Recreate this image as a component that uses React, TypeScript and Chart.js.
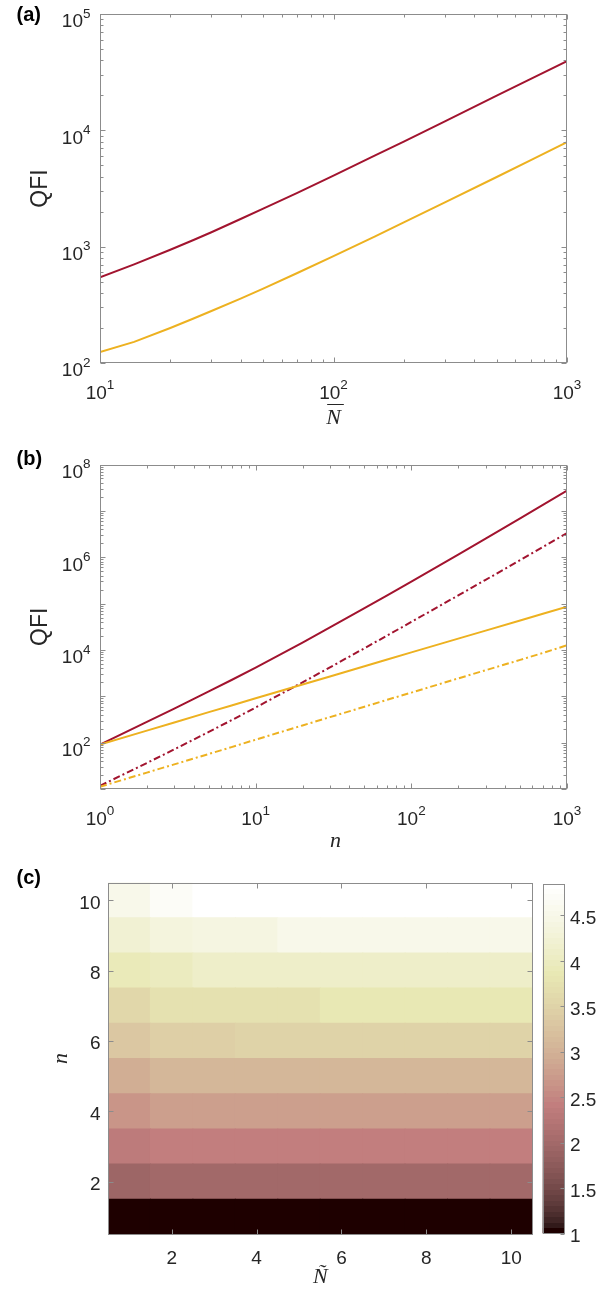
import React, { useEffect, useRef } from "react";
import { Chart, registerables } from "chart.js";

Chart.register(...registerables);

const W = 611;
const H = 1293;

const SANS = '"Liberation Sans", Arial, Helvetica, sans-serif';
const SERIF = '"Liberation Serif", "Times New Roman", serif';
const TXT = "#262626";
const AX = "#8c8c8c";
const RED = "#A2142F";
const YELLOW = "#EDB120";

// ---------------- Panel (a) ----------------
const aN = [10, 14, 20, 25, 30, 40, 50, 70, 100, 150, 200, 300, 500, 700, 1000];
const aRedQFI = [545, 705, 940, 1135, 1330, 1730, 2120, 2900, 4080, 6050, 8000, 11950, 19850, 27700, 39400];
const aYellowQFI = [124, 152, 200, 240, 280, 358, 436, 594, 830, 1220, 1615, 2400, 3970, 5540, 7900];
const aXTicks = [10, 100, 1000];
const aYTicks = [100, 1000, 10000, 100000];

// ---------------- Panel (b) ----------------
const bN = [1, 2, 3, 5, 7, 10, 20, 30, 50, 70, 100, 200, 300, 500, 700, 1000];
const bRedSolid = [91, 280, 544, 1271, 2244, 4150, 14450, 30500, 79300, 150000, 298000, 1143000, 2530000, 6920000, 13460000, 27400000];
const bRedDashDot = [11.7, 36.4, 71.6, 170.6, 305, 573, 1995, 4207, 10890, 20470, 40180, 150000, 325000, 867000, 1660000, 3320000];
const bYellowSolid = [91, 182, 273, 455, 635, 905, 1800, 2680, 4450, 6200, 8850, 17500, 26100, 43200, 60200, 85500];
const bYellowDashDot = [11.2, 22.6, 34, 57, 80, 116, 235, 355, 595, 840, 1200, 2430, 3650, 6100, 8600, 12600];
const bXTicks = [1, 10, 100, 1000];
const bYTicks = [100, 10000, 1000000, 100000000];

// ---------------- Panel (c) ----------------
const cNTilde = [1, 2, 3, 4, 5, 6, 7, 8, 9, 10];
const cN = [1, 2, 3, 4, 5, 6, 7, 8, 9, 10];
// one row per n (bottom to top), one column per N~
const cRow1 = [1.0, 1.0, 1.0, 1.0, 1.0, 1.0, 1.0, 1.0, 1.0, 1.0];
const cRow2 = [1.93, 1.98, 1.98, 1.98, 1.98, 1.98, 1.98, 1.98, 1.98, 1.98];
const cRow3 = [2.35, 2.41, 2.41, 2.41, 2.41, 2.41, 2.41, 2.41, 2.41, 2.41];
const cRow4 = [2.65, 2.77, 2.77, 2.77, 2.77, 2.77, 2.77, 2.77, 2.77, 2.77];
const cRow5 = [2.95, 3.07, 3.07, 3.07, 3.07, 3.07, 3.07, 3.07, 3.07, 3.07];
const cRow6 = [3.31, 3.43, 3.43, 3.49, 3.49, 3.49, 3.49, 3.49, 3.49, 3.49];
const cRow7 = [3.55, 3.73, 3.73, 3.73, 3.73, 3.85, 3.85, 3.85, 3.85, 3.85];
const cRow8 = [3.9, 4.0, 4.1, 4.1, 4.1, 4.1, 4.1, 4.1, 4.1, 4.1];
const cRow9 = [4.21, 4.33, 4.4, 4.4, 4.51, 4.51, 4.51, 4.51, 4.51, 4.51];
const cRow10 = [4.51, 4.68, 4.85, 4.85, 4.85, 4.85, 4.85, 4.85, 4.85, 4.85];
const cValues = [cRow1, cRow2, cRow3, cRow4, cRow5, cRow6, cRow7, cRow8, cRow9, cRow10];
const cXTicks = [2, 4, 6, 8, 10];
const cYTicks = [2, 4, 6, 8, 10];
const cbTicks = [1, 1.5, 2, 2.5, 3, 3.5, 4, 4.5];

const cMin = Math.min(...cValues.map((r) => Math.min(...r)));
const cMax = Math.max(...cValues.map((r) => Math.max(...r)));

// MATLAB "pink" colormap, 64 entries
function pinkEntry(k: number): string {
  const m = 64;
  const n = 24;
  const gray = k / (m - 1);
  const r = k < n ? (k + 1) / n : 1;
  const g = k < n ? 0 : k < 2 * n ? (k - n + 1) / n : 1;
  const b = k < 2 * n ? 0 : (k - 2 * n + 1) / (m - 2 * n);
  const c = [r, g, b].map((h) => Math.round(Math.sqrt((2 * gray + h) / 3) * 255));
  return `rgb(${c[0]},${c[1]},${c[2]})`;
}
function colorFor(v: number): string {
  const t = (v - cMin) / (cMax - cMin);
  let k = Math.floor(t * 64);
  if (k > 63) k = 63;
  if (k < 0) k = 0;
  return pinkEntry(k);
}

function logMinors(min: number, max: number): number[] {
  const out: number[] = [];
  for (let d = Math.floor(Math.log10(min)); d < Math.ceil(Math.log10(max)); d++) {
    for (let m = 2; m <= 9; m++) {
      const v = m * Math.pow(10, d);
      if (v > min && v < max) out.push(v);
    }
  }
  return out;
}

function drawPow(ctx: CanvasRenderingContext2D, exp: number, x: number, baseline: number, align: "center" | "right") {
  ctx.font = `19px ${SANS}`;
  const wb = ctx.measureText("10").width;
  ctx.font = `13.5px ${SANS}`;
  const es = String(exp);
  const we = ctx.measureText(es).width;
  const total = wb + we;
  const x0 = align === "center" ? x - total / 2 : x - total;
  ctx.textAlign = "left";
  ctx.textBaseline = "alphabetic";
  ctx.fillStyle = TXT;
  ctx.font = `19px ${SANS}`;
  ctx.fillText("10", x0, baseline);
  ctx.font = `13.5px ${SANS}`;
  ctx.fillText(es, x0 + wb, baseline - 9.5);
}

function rotatedText(ctx: CanvasRenderingContext2D, text: string, x: number, y: number, font: string) {
  ctx.save();
  ctx.translate(x, y);
  ctx.rotate(-Math.PI / 2);
  ctx.font = font;
  ctx.fillStyle = TXT;
  ctx.textAlign = "center";
  ctx.textBaseline = "middle";
  ctx.fillText(text, 0, 0);
  ctx.restore();
}

function panelTag(ctx: CanvasRenderingContext2D, text: string, x: number, baseline: number) {
  ctx.font = `bold 20px ${SANS}`;
  ctx.fillStyle = "#000";
  ctx.textAlign = "left";
  ctx.textBaseline = "alphabetic";
  ctx.fillText(text, x, baseline);
}

type FrameOpts = {
  xMajor: number[];
  xMinor: number[];
  yMajor: number[];
  yMinor: number[];
  majorLen: number;
  minorLen: number;
  rightOnly?: boolean;
  labels: (ctx: CanvasRenderingContext2D, chart: any) => void;
};

function framePlugin(id: string, o: FrameOpts) {
  return {
    id,
    afterDraw(chart: any) {
      const ctx = chart.ctx as CanvasRenderingContext2D;
      const { left, right, top, bottom } = chart.chartArea;
      const xs = chart.scales.x;
      const ys = chart.scales.y;
      const L = Math.round(left) + 0.5;
      const R = Math.round(right) - 0.5;
      const T = Math.round(top) + 0.5;
      const B = Math.round(bottom) - 0.5;
      ctx.save();
      ctx.strokeStyle = AX;
      ctx.lineWidth = 1;
      ctx.beginPath();
      const vt = (v: number, len: number) => {
        const p = Math.round(xs.getPixelForValue(v)) + 0.5;
        ctx.moveTo(p, B);
        ctx.lineTo(p, B - len);
        ctx.moveTo(p, T);
        ctx.lineTo(p, T + len);
      };
      const ht = (v: number, len: number) => {
        const p = Math.round(ys.getPixelForValue(v)) + 0.5;
        if (!o.rightOnly) {
          ctx.moveTo(L, p);
          ctx.lineTo(L + len, p);
        }
        ctx.moveTo(R, p);
        ctx.lineTo(R - len, p);
      };
      o.xMajor.forEach((v) => vt(v, o.majorLen));
      o.xMinor.forEach((v) => vt(v, o.minorLen));
      o.yMajor.forEach((v) => ht(v, o.majorLen));
      o.yMinor.forEach((v) => ht(v, o.minorLen));
      ctx.stroke();
      ctx.strokeRect(L, T, R - L, B - T);
      ctx.restore();
      ctx.save();
      o.labels(ctx, chart);
      ctx.restore();
    },
  };
}

const baseOpts = {
  responsive: false,
  animation: false as const,
  events: [] as any[],
  plugins: { legend: { display: false }, tooltip: { enabled: false } },
};

function configA(): any {
  return {
    type: "line",
    data: {
      datasets: [
        { data: aN.map((x, i) => ({ x, y: aRedQFI[i] })), borderColor: RED, borderWidth: 2, pointRadius: 0, tension: 0, fill: false },
        { data: aN.map((x, i) => ({ x, y: aYellowQFI[i] })), borderColor: YELLOW, borderWidth: 2, pointRadius: 0, tension: 0, fill: false },
      ],
    },
    options: {
      ...baseOpts,
      layout: { padding: { left: 100, right: W - 567, top: 14, bottom: H - 363 } },
      scales: {
        x: { type: "logarithmic", min: 10, max: 1000, display: false },
        y: { type: "logarithmic", min: 100, max: 100000, display: false },
      },
    },
    plugins: [
      framePlugin("frameA", {
        xMajor: aXTicks,
        xMinor: logMinors(10, 1000),
        yMajor: aYTicks,
        yMinor: logMinors(100, 100000),
        majorLen: 5,
        minorLen: 3,
        labels: (ctx, chart) => {
          const ca = chart.chartArea;
          const xs = chart.scales.x;
          const ys = chart.scales.y;
          aXTicks.forEach((v) => drawPow(ctx, Math.round(Math.log10(v)), xs.getPixelForValue(v), ca.bottom + 35.5, "center"));
          aYTicks.forEach((v) => drawPow(ctx, Math.round(Math.log10(v)), ca.left - 9.5, ys.getPixelForValue(v) + 13.3, "right"));
          rotatedText(ctx, "QFI", 41, (ca.top + ca.bottom) / 2, `23px ${SANS}`);
          // N with overline
          const cx = (ca.left + ca.right) / 2;
          ctx.font = `italic 22px ${SERIF}`;
          ctx.fillStyle = TXT;
          ctx.textAlign = "center";
          ctx.textBaseline = "alphabetic";
          ctx.fillText("N", cx, 424);
          const w = ctx.measureText("N").width;
          ctx.strokeStyle = TXT;
          ctx.lineWidth = 1;
          ctx.beginPath();
          ctx.moveTo(cx - w / 2 + 1, 404.5);
          ctx.lineTo(cx + w / 2 + 3, 404.5);
          ctx.stroke();
          panelTag(ctx, "(a)", 16.5, 21);
        },
      }),
    ],
  };
}

function configB(): any {
  const dd = [7, 3, 2, 3];
  return {
    type: "line",
    data: {
      datasets: [
        { data: bN.map((x, i) => ({ x, y: bYellowDashDot[i] })), borderColor: YELLOW, borderWidth: 2, borderDash: dd, pointRadius: 0, tension: 0, fill: false },
        { data: bN.map((x, i) => ({ x, y: bYellowSolid[i] })), borderColor: YELLOW, borderWidth: 2, pointRadius: 0, tension: 0, fill: false },
        { data: bN.map((x, i) => ({ x, y: bRedDashDot[i] })), borderColor: RED, borderWidth: 2, borderDash: dd, pointRadius: 0, tension: 0, fill: false },
        { data: bN.map((x, i) => ({ x, y: bRedSolid[i] })), borderColor: RED, borderWidth: 2, pointRadius: 0, tension: 0, fill: false },
      ],
    },
    options: {
      ...baseOpts,
      layout: { padding: { left: 100, right: W - 567, top: 464.5, bottom: H - 789 } },
      scales: {
        x: { type: "logarithmic", min: 1, max: 1000, display: false },
        y: { type: "logarithmic", min: 10, max: 100000000, display: false },
      },
    },
    plugins: [
      framePlugin("frameB", {
        xMajor: bXTicks,
        xMinor: logMinors(1, 1000),
        yMajor: [10, 1000, 100000, 10000000, ...bYTicks],
        yMinor: logMinors(10, 100000000),
        majorLen: 5,
        minorLen: 3,
        labels: (ctx, chart) => {
          const ca = chart.chartArea;
          const xs = chart.scales.x;
          const ys = chart.scales.y;
          bXTicks.forEach((v) => drawPow(ctx, Math.round(Math.log10(v)), xs.getPixelForValue(v), ca.bottom + 35.5, "center"));
          bYTicks.forEach((v) => drawPow(ctx, Math.round(Math.log10(v)), ca.left - 9.5, ys.getPixelForValue(v) + 13.3, "right"));
          rotatedText(ctx, "QFI", 41, (ca.top + ca.bottom) / 2, `23px ${SANS}`);
          ctx.font = `italic 22px ${SERIF}`;
          ctx.fillStyle = TXT;
          ctx.textAlign = "center";
          ctx.textBaseline = "alphabetic";
          ctx.fillText("n", (ca.left + ca.right) / 2 + 2, 847);
          panelTag(ctx, "(b)", 16.5, 465);
        },
      }),
    ],
  };
}

function configC(): any {
  const datasets = cN.map((n, ri) => ({
    type: "bar",
    data: cNTilde.map((x) => ({ x, y: [n - 0.5, n + 0.5] })),
    backgroundColor: cNTilde.map((_, ci) => colorFor(cValues[ri][ci])),
    borderWidth: 0,
    grouped: false,
    barPercentage: 1,
    categoryPercentage: 1,
    inflateAmount: 0.5,
  }));
  return {
    type: "bar",
    data: { datasets },
    options: {
      ...baseOpts,
      layout: { padding: { left: 108, right: W - 532.5, top: 882.5, bottom: H - 1234.5 } },
      scales: {
        x: {
          type: "linear",
          min: 0.5,
          max: 10.5,
          offset: false,
          display: false,
          afterBuildTicks: (s: any) => {
            s.ticks = cNTilde.map((v) => ({ value: v }));
          },
        },
        y: { type: "linear", min: 0.5, max: 10.5, display: false },
      },
    },
    plugins: [
      framePlugin("frameC", {
        xMajor: cXTicks,
        xMinor: [],
        yMajor: cYTicks,
        yMinor: [],
        majorLen: 5,
        minorLen: 3,
        labels: (ctx, chart) => {
          const ca = chart.chartArea;
          const xs = chart.scales.x;
          const ys = chart.scales.y;
          ctx.font = `19px ${SANS}`;
          ctx.fillStyle = TXT;
          ctx.textBaseline = "alphabetic";
          ctx.textAlign = "center";
          cXTicks.forEach((v) => ctx.fillText(String(v), xs.getPixelForValue(v), ca.bottom + 29));
          ctx.textAlign = "right";
          cYTicks.forEach((v) => ctx.fillText(String(v), ca.left - 7.5, ys.getPixelForValue(v) + 8.5));
          rotatedText(ctx, "n", 61, (ca.top + ca.bottom) / 2, `italic 22px ${SERIF}`);
          ctx.font = `italic 22px ${SERIF}`;
          ctx.fillStyle = TXT;
          ctx.textAlign = "center";
          ctx.textBaseline = "alphabetic";
          ctx.fillText("Ñ", (ca.left + ca.right) / 2, 1283);
          panelTag(ctx, "(c)", 16.5, 884);
        },
      }),
    ],
  };
}

function configBar(): any {
  let cache: any = null;
  return {
    type: "bar",
    data: {
      labels: ["colorbar"],
      datasets: [
        {
          data: [[cMin, cMax]],
          borderWidth: 0,
          barPercentage: 1,
          categoryPercentage: 1,
          backgroundColor: (c: any) => {
            const ca = c.chart.chartArea;
            if (!ca) return "#000";
            if (cache) return cache;
            const g = c.chart.ctx.createLinearGradient(0, ca.bottom, 0, ca.top);
            for (let k = 0; k < 64; k++) {
              const col = pinkEntry(k);
              g.addColorStop(k / 64, col);
              g.addColorStop((k + 1) / 64, col);
            }
            cache = g;
            return g;
          },
        },
      ],
    },
    options: {
      ...baseOpts,
      layout: { padding: { left: 542.5, right: W - 564.5, top: 883.5, bottom: H - 1233.5 } },
      scales: {
        x: { type: "category", display: false },
        y: { type: "linear", min: cMin, max: cMax, display: false },
      },
    },
    plugins: [
      framePlugin("frameCB", {
        xMajor: [],
        xMinor: [],
        yMajor: cbTicks,
        yMinor: [],
        majorLen: 4,
        minorLen: 2,
        rightOnly: true,
        labels: (ctx, chart) => {
          const ys = chart.scales.y;
          ctx.font = `19px ${SANS}`;
          ctx.fillStyle = TXT;
          ctx.textAlign = "left";
          ctx.textBaseline = "alphabetic";
          cbTicks.forEach((v) => ctx.fillText(String(v), 570, ys.getPixelForValue(v) + 8.8));
        },
      }),
    ],
  };
}

export default function App() {
  const r1 = useRef<HTMLCanvasElement>(null);
  const r2 = useRef<HTMLCanvasElement>(null);
  const r3 = useRef<HTMLCanvasElement>(null);
  const r4 = useRef<HTMLCanvasElement>(null);

  useEffect(() => {
    const charts = [
      new Chart(r1.current as HTMLCanvasElement, configA()),
      new Chart(r2.current as HTMLCanvasElement, configB()),
      new Chart(r3.current as HTMLCanvasElement, configC()),
      new Chart(r4.current as HTMLCanvasElement, configBar()),
    ];
    return () => charts.forEach((c) => c.destroy());
  }, []);

  const cs: React.CSSProperties = { position: "absolute", left: 0, top: 0, width: W, height: H };
  return (
    <div style={{ position: "absolute", left: 0, top: 0, width: W, height: H, background: "#fff", overflow: "hidden" }}>
      <canvas ref={r1} width={W} height={H} style={cs} />
      <canvas ref={r2} width={W} height={H} style={cs} />
      <canvas ref={r3} width={W} height={H} style={cs} />
      <canvas ref={r4} width={W} height={H} style={cs} />
    </div>
  );
}
